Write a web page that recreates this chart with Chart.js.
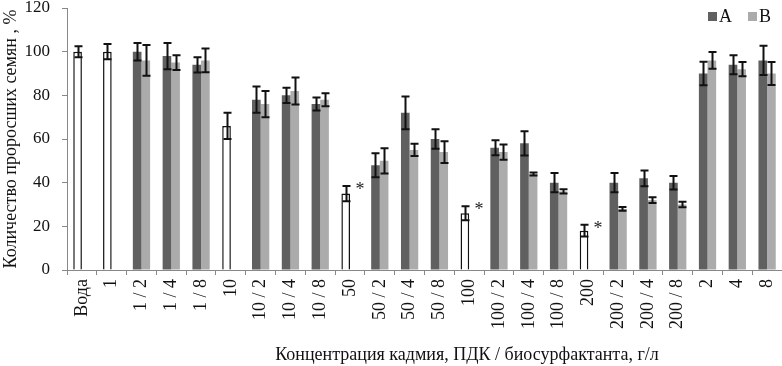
<!DOCTYPE html>
<html>
<head>
<meta charset="utf-8">
<script src="https://cdn.jsdelivr.net/npm/chart.js@4.4.1/dist/chart.umd.min.js"></script>
<style>
html,body{margin:0;padding:0;background:#fff;}
#wrap{width:782px;height:366px;position:relative;}
</style>
</head>
<body>
<div id="wrap"><canvas id="c" width="782" height="366"></canvas></div>
<script>
const categories = ['Вода','1','1 / 2','1 / 4','1 / 8','10','10 / 2','10 / 4','10 / 8','50','50 / 2','50 / 4','50 / 8','100','100 / 2','100 / 4','100 / 8','200','200 / 2','200 / 4','200 / 8','2','4','8'];
const seriesA = [100,100,100,98,94,66,78,80,76,35,48,72,60,26,56,58,40,18,40,42,40,90,94,96];
const errorA  = [2.5,3.5,4,6,3.5,6,6,3.5,3,3.5,5.5,7.5,4.5,3.2,3.4,5.5,4.4,2.7,4.4,3.6,3.1,5.4,4.4,6.7];
const seriesB = [null,null,96,95,96,null,76,82,78,null,50,55,54,null,54,44,36,null,28,32,30,96,92,90];
const errorB  = [0,0,7,3.4,5.4,0,6,6.2,3,0,5.8,2.8,5,0,3.5,0.7,1,0,0.9,1.3,1.3,3.8,3.3,5.3];
const singleBars = [true,true,false,false,false,true,false,false,false,true,false,false,false,true,false,false,false,true,false,false,false,false,false,false];
const starred = ['50','100','200'];
const yTicks = [0,20,40,60,80,100,120];
const legendNames = ['A','B'];

const colA = '#606060', colB = '#ababab';
const FONT = "'Liberation Serif', 'DejaVu Serif', serif";

const errPlugin = {
  id: 'errbars',
  afterDatasetsDraw(chart) {
    const ctx = chart.ctx, ys = chart.scales.y;
    const errs = [errorA, errorB];
    const vals = [seriesA, seriesB];
    ctx.save();
    ctx.strokeStyle = '#111';
    ctx.lineWidth = 2;
    [0,1].forEach(di => {
      const meta = chart.getDatasetMeta(di);
      meta.data.forEach((el, i) => {
        const v = vals[di][i];
        if (v === null || v === undefined) return;
        const e = errs[di][i];
        const x = Math.round(el.x) + 0.5;
        const yt = ys.getPixelForValue(v + e), yb = ys.getPixelForValue(v - e);
        ctx.beginPath();
        ctx.moveTo(x, yt); ctx.lineTo(x, yb);
        ctx.moveTo(x - 4, yt); ctx.lineTo(x + 4, yt);
        ctx.moveTo(x - 4, yb); ctx.lineTo(x + 4, yb);
        ctx.stroke();
        if (di === 0 && starred.includes(categories[i])) {
          ctx.fillStyle = '#222';
          ctx.font = '18px ' + FONT;
          ctx.textAlign = 'left';
          ctx.textBaseline = 'middle';
          ctx.fillText('*', x + 9, yt + 4);
        }
      });
    });
    ctx.restore();
  },
  afterDraw(chart) {
    const ctx = chart.ctx;
    ctx.save();
    ctx.fillStyle = '#111';
    ctx.font = '18px ' + FONT;
    ctx.textAlign = 'center';
    ctx.textBaseline = 'middle';
    ctx.fillText('Концентрация кадмия, ПДК / биосурфактанта, г/л', 467, 355);
    // legend
    const cols = [colA, colB];
    const xs = [708, 748];
    ctx.textAlign = 'left';
    ctx.font = '18px ' + FONT;
    legendNames.forEach((n, k) => {
      ctx.fillStyle = cols[k];
      ctx.fillRect(xs[k], 12, 9, 9);
      ctx.fillStyle = '#111';
      ctx.fillText(n, xs[k] + 11, 17);
    });
    ctx.restore();
  }
};

new Chart(document.getElementById('c'), {
  type: 'bar',
  data: {
    labels: categories,
    datasets: [
      {
        label: 'A',
        data: seriesA,
        backgroundColor: singleBars.map(s => s ? '#ffffff' : colA),
        borderColor: singleBars.map(s => s ? '#111111' : colA),
        borderWidth: singleBars.map(s => s ? 1.5 : 0),
        categoryPercentage: 0.58,
        barPercentage: 1.0
      },
      {
        label: 'B',
        data: seriesB,
        backgroundColor: colB,
        borderWidth: 0,
        categoryPercentage: 0.58,
        barPercentage: 1.0
      }
    ]
  },
  options: {
    responsive: false,
    animation: false,
    devicePixelRatio: 1,
    layout: { padding: 0 },
    plugins: {
      tooltip: { enabled: false },
      legend: { display: false }
    },
    scales: {
      x: {
        grid: { display: true, drawOnChartArea: false, color: '#888', tickLength: 5, offset: true },
        border: { color: '#888', width: 1 },
        ticks: {
          minRotation: 90, maxRotation: 90, autoSkip: false,
          color: '#111', padding: 4,
          font: { family: FONT, size: 18 }
        },
        afterFit(scale) { scale.height = 96; scale.paddingLeft = 0; scale.paddingRight = 0; }
      },
      y: {
        min: 0, max: 120,
        afterBuildTicks(scale) { scale.ticks = yTicks.map(v => ({ value: v })); },
        grid: { display: true, drawOnChartArea: false, color: '#888', tickLength: 5 },
        border: { color: '#888', width: 1 },
        ticks: { color: '#111', padding: 12, font: { family: FONT, size: 17 } },
        title: {
          display: true,
          text: 'Количество проросших семян , %',
          color: '#111',
          font: { family: FONT, size: 18 },
          padding: { top: 0, bottom: 0 }
        },
        afterFit(scale) { scale.width = 67; scale.paddingTop = 8; scale.paddingBottom = 0; }
      }
    }
  },
  plugins: [errPlugin]
});
</script>
</body>
</html>
